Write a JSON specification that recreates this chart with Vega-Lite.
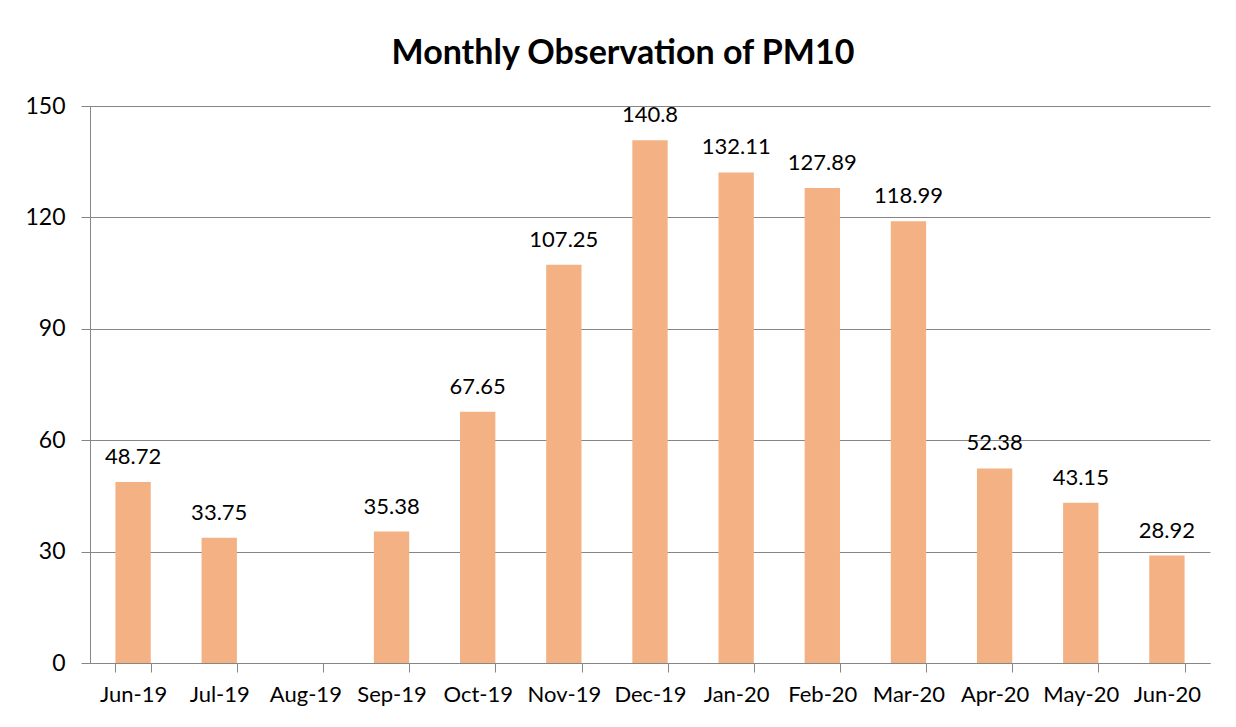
{
  "$schema": "https://vega.github.io/schema/vega-lite/v6.json",
  "width": 1120,
  "height": 557,
  "autosize": {"type": "none"},
  "padding": {"left": 90, "top": 106, "right": 26, "bottom": 64},
  "background": "white",
  "title": {
    "text": "Monthly Observation of PM10",
    "font": "Lato",
    "fontSize": 34,
    "fontWeight": "bold",
    "color": "#000000",
    "anchor": "middle",
    "dx": -27,
    "offset": 24
  },
  "config": {
    "view": {"stroke": null},
    "font": "Lato"
  },
  "data": {
    "values": [
      {"month": "Jun-19", "pm10": 48.72},
      {"month": "Jul-19", "pm10": 33.75},
      {"month": "Aug-19", "pm10": null},
      {"month": "Sep-19", "pm10": 35.38},
      {"month": "Oct-19", "pm10": 67.65},
      {"month": "Nov-19", "pm10": 107.25},
      {"month": "Dec-19", "pm10": 140.8},
      {"month": "Jan-20", "pm10": 132.11},
      {"month": "Feb-20", "pm10": 127.89},
      {"month": "Mar-20", "pm10": 118.99},
      {"month": "Apr-20", "pm10": 52.38},
      {"month": "May-20", "pm10": 43.15},
      {"month": "Jun-20", "pm10": 28.92}
    ]
  },
  "encoding": {
    "x": {
      "field": "month",
      "type": "nominal",
      "sort": null,
      "scale": {
        "domain": ["Jun-19", "Jul-19", "Aug-19", "Sep-19", "Oct-19", "Nov-19", "Dec-19", "Jan-20", "Feb-20", "Mar-20", "Apr-20", "May-20", "Jun-20"],
        "paddingInner": 0.59,
        "paddingOuter": 0.295
      },
      "axis": {
        "title": null,
        "labelAngle": 0,
        "labelFont": "Lato",
        "labelFontSize": 22,
        "labelColor": "#000000",
        "labelPadding": 12,
        "tickBand": "extent",
        "tickSize": 9,
        "tickColor": "#868686",
        "domainColor": "#868686",
        "grid": false
      }
    },
    "y": {
      "field": "pm10",
      "type": "quantitative",
      "scale": {"domain": [0, 150], "nice": false},
      "axis": {
        "title": null,
        "values": [0, 30, 60, 90, 120, 150],
        "labelFont": "Lato",
        "labelFontSize": 23,
        "labelColor": "#000000",
        "labelPadding": 16,
        "tickSize": 9,
        "tickColor": "#868686",
        "domainColor": "#868686",
        "gridColor": "#868686",
        "grid": true
      }
    }
  },
  "layer": [
    {
      "mark": {"type": "bar", "color": "#F4B183"}
    },
    {
      "mark": {"type": "text", "dy": -25, "fontSize": 22, "font": "Lato", "color": "#000000"},
      "encoding": {
        "text": {"field": "pm10", "type": "quantitative"}
      }
    }
  ]
}
